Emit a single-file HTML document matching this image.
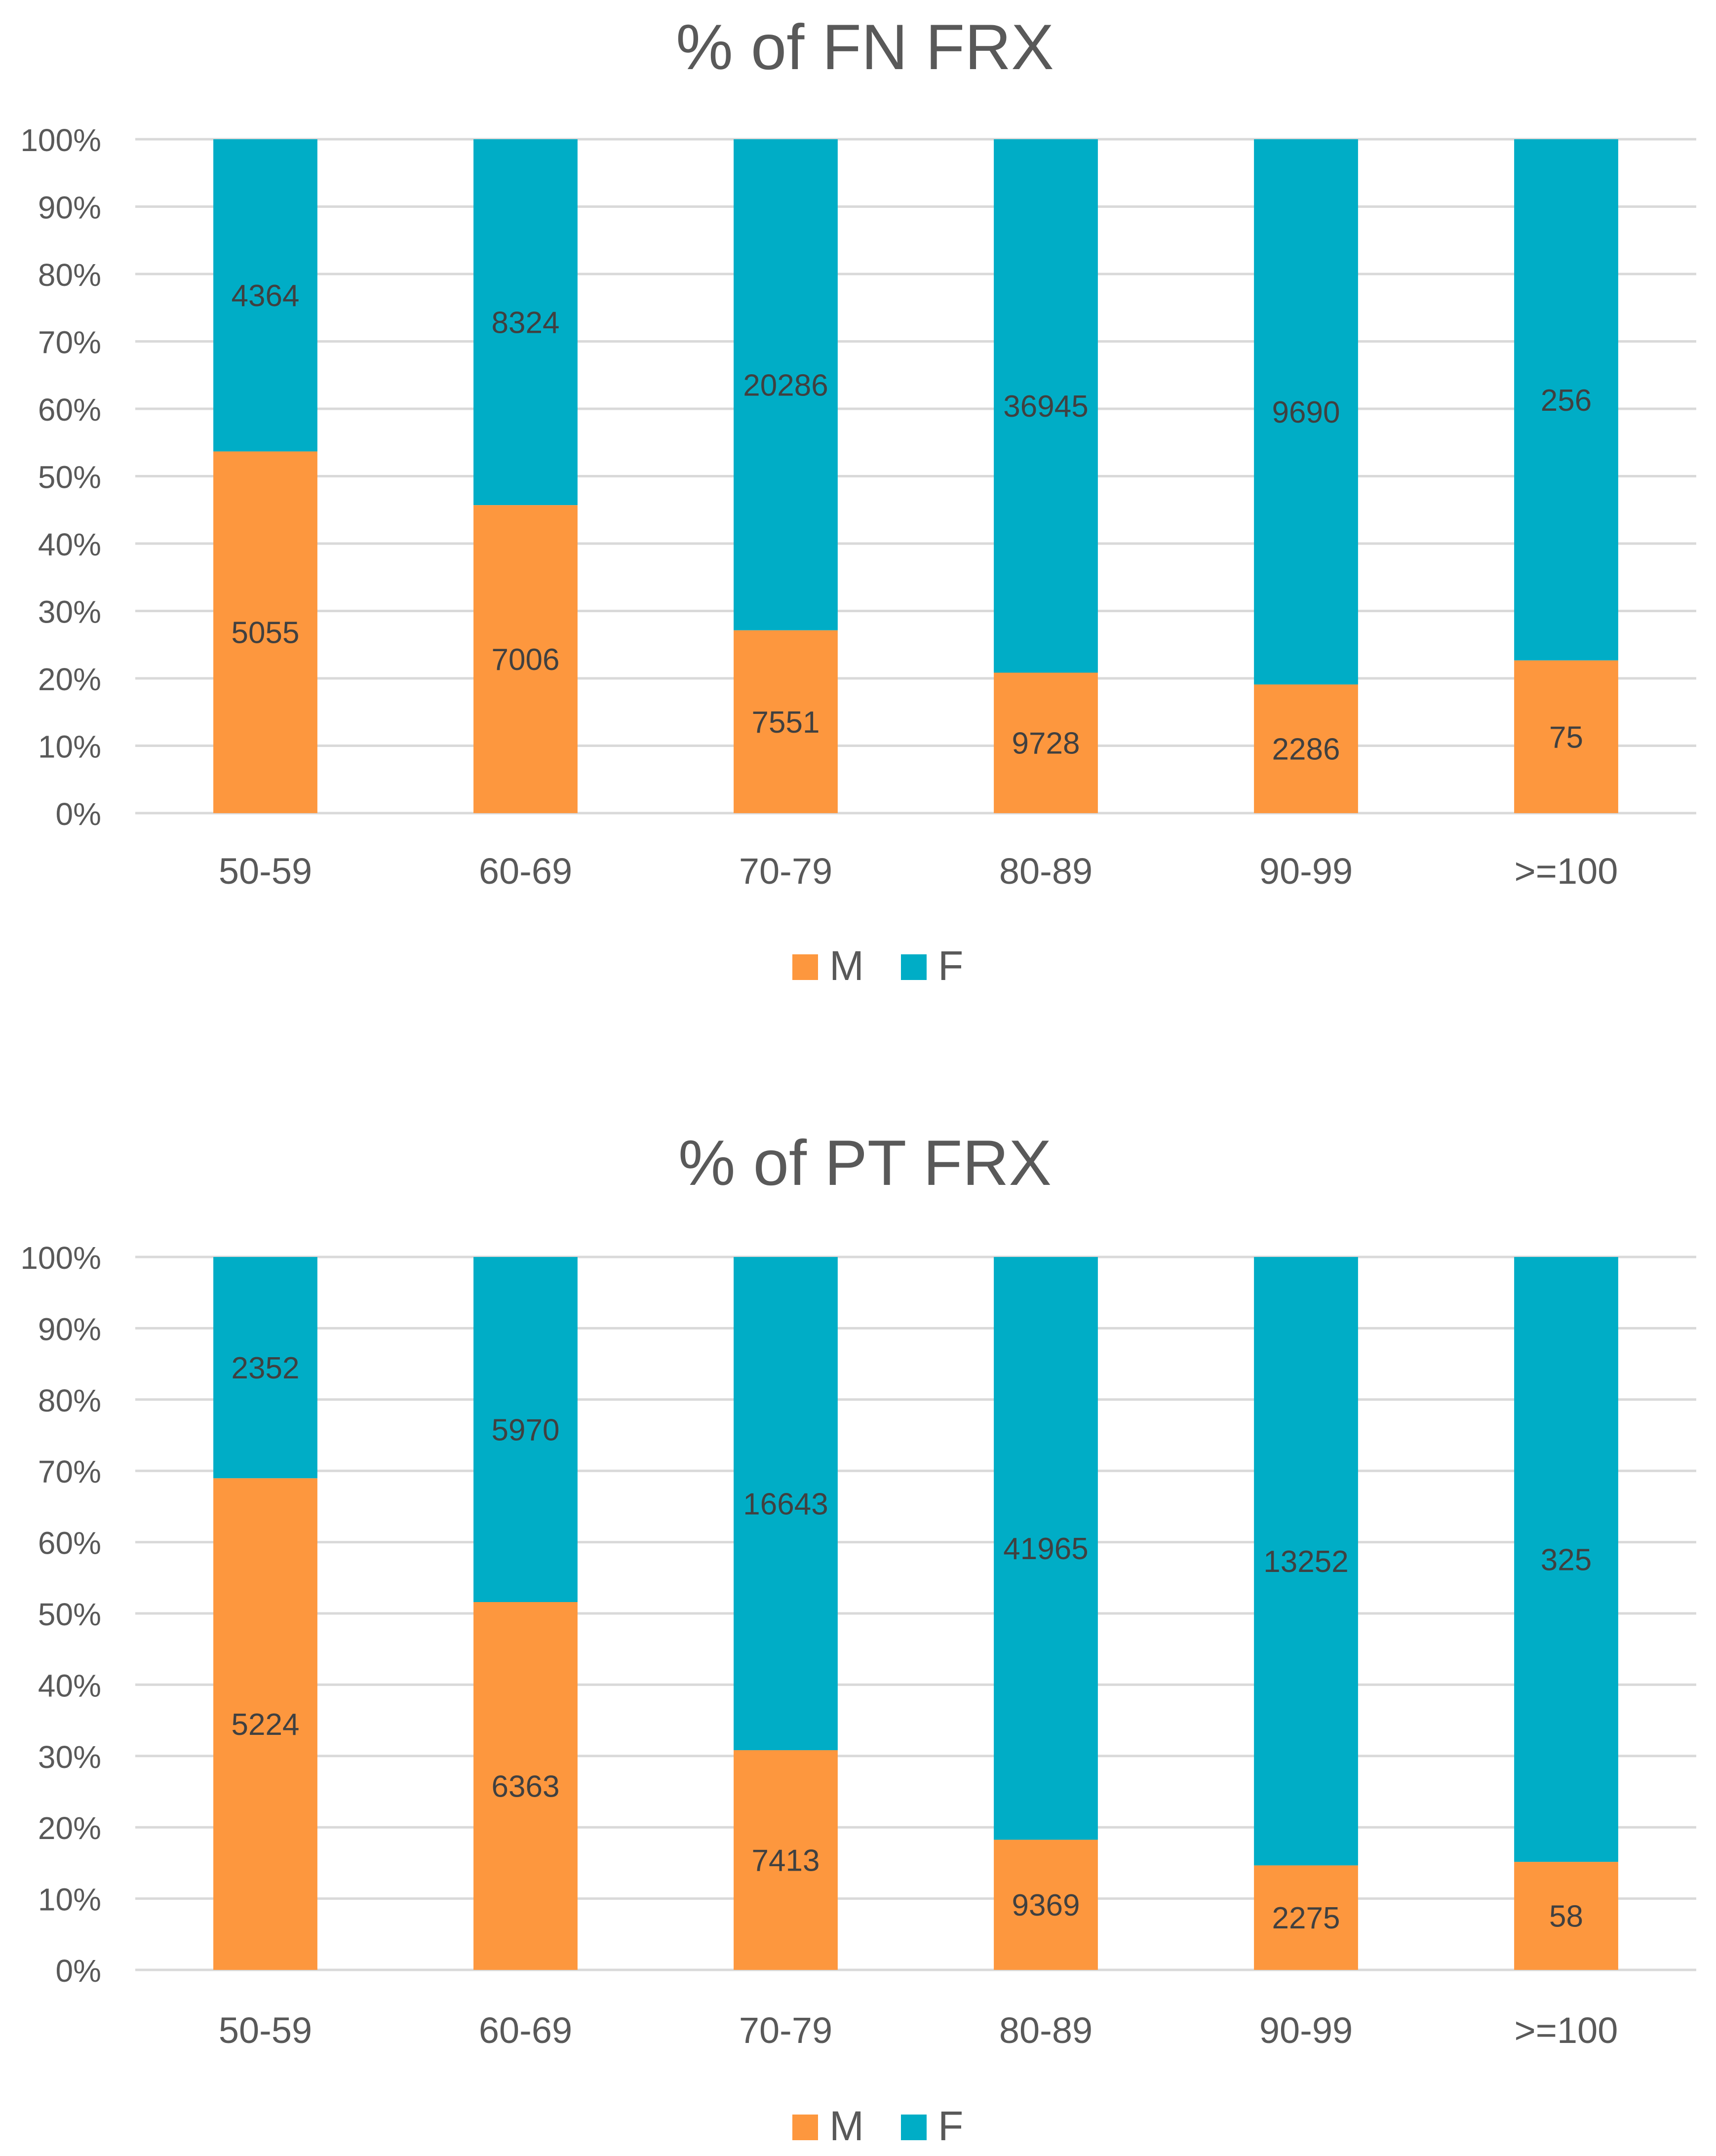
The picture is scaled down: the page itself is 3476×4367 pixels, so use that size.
<!DOCTYPE html>
<html><head><meta charset="utf-8"><style>
html,body{margin:0;padding:0;background:#fff}
svg{display:block}
text{font-family:"Liberation Sans",sans-serif}
</style></head><body>
<svg id="chart" width="3476" height="4367" viewBox="0 0 3476 4367" xmlns="http://www.w3.org/2000/svg"></svg>
<script>
const categories = ["50-59","60-69","70-79","80-89","90-99",">=100"];
const fnMale = [5055,7006,7551,9728,2286,75];
const fnFemale = [4364,8324,20286,36945,9690,256];
const ptMale = [5224,6363,7413,9369,2275,58];
const ptFemale = [2352,5970,16643,41965,13252,325];
const tickLabels = ["0%","10%","20%","30%","40%","50%","60%","70%","80%","90%","100%"];
const tickValues = [0,0.1,0.2,0.3,0.4,0.5,0.6,0.7,0.8,0.9,1];

const NS="http://www.w3.org/2000/svg";
const svg=document.getElementById('chart');
function el(tag,attrs,parent){const e=document.createElementNS(NS,tag);for(const k in attrs)e.setAttribute(k,attrs[k]);(parent||svg).appendChild(e);return e;}

function drawChart(key,title,male,female,cfg){
  const g=el('g',{});
  
  
  const x0=274,x1=3436;
  const yScale=v=>cfg.y0-(cfg.y0-cfg.y100)*v;
  const band=(x1-x0)/categories.length;
  const xCenter=i=>x0+band*(i+0.5);
  const bw=band*0.4;
  const t=el('text',{x:1752,y:cfg.titleY,'text-anchor':'middle','font-size':130,fill:'#595959'},g);
  t.textContent=title;
  
  
  tickValues.forEach((v,i)=>{
    const y=yScale(v);
    const l=el('line',{x1:x0,x2:x1,y1:y,y2:y,stroke:'#d9d9d9','stroke-width':5},g);
    
    
    const tl=el('text',{x:205,y:y+24,'text-anchor':'end','font-size':64,fill:'#595959'},g);
    tl.textContent=tickLabels[i];
    
    
  });
  categories.forEach((c,i)=>{
    const tot=male[i]+female[i];
    const pm=male[i]/tot;
    const cx=xCenter(i);
    const yM=yScale(pm), yT=yScale(1), yB=yScale(0);
    const rf=el('rect',{x:cx-bw/2,y:yT,width:bw,height:yM-yT,fill:'#00ADC6'},g);
    
    
    const rm=el('rect',{x:cx-bw/2,y:yM,width:bw,height:yB-yM,fill:'#FD973E'},g);
    
    
    const lf=el('text',{x:cx,y:(yT+yM)/2+22,'text-anchor':'middle','font-size':62,fill:'#404040'},g);
    lf.textContent=female[i];
    
    
    const lm=el('text',{x:cx,y:(yM+yB)/2+22,'text-anchor':'middle','font-size':62,fill:'#404040'},g);
    lm.textContent=male[i];
    
    
    const xl=el('text',{x:cx,y:cfg.xLabelY,'text-anchor':'middle','font-size':74,fill:'#595959'},g);
    xl.textContent=c;
    
    
  });
  const ly=cfg.legendY;
  const sm=el('rect',{x:1605,y:ly-22,width:52,height:52,fill:'#FD973E'},g);
  
  
  const tm=el('text',{x:1680,y:ly+30,'font-size':84,fill:'#595959'},g);
  tm.textContent='M';
  
  
  const sf=el('rect',{x:1825,y:ly-22,width:52,height:52,fill:'#00ADC6'},g);
  
  
  const tf=el('text',{x:1900,y:ly+30,'font-size':84,fill:'#595959'},g);
  tf.textContent='F';
  
  
}
drawChart('fn','% of FN FRX',fnMale,fnFemale,{y100:282,y0:1647,titleY:140,xLabelY:1790,legendY:1955});
drawChart('pt','% of PT FRX',ptMale,ptFemale,{y100:2546,y0:3990,titleY:2400,xLabelY:4138,legendY:4305});
</script>
</body></html>
